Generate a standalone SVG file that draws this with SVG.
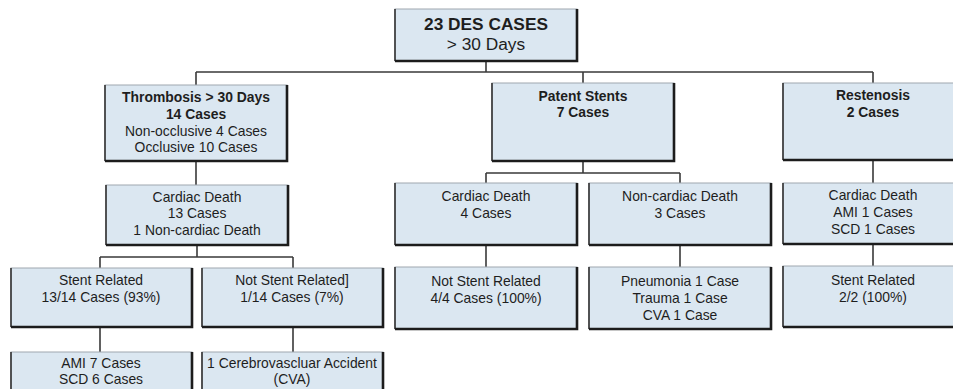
<svg xmlns="http://www.w3.org/2000/svg" width="953" height="389" viewBox="0 0 953 389">
<style>
.box{fill:#dbe7f1;stroke:#a0a8b0;stroke-width:1}
.sh{fill:none;stroke:#1c1c1c;stroke-width:2.6}
.lf{fill:none;stroke:#333;stroke-width:1.6}
text{font-family:"Liberation Sans",Arial,sans-serif;font-size:13.9px;fill:#1e1e1e;text-anchor:middle}
.b{font-weight:bold}
.big{font-size:17.3px}
#connectors path{fill:none;stroke:#3a3a3a;stroke-width:1.6}
</style>
<rect width="953" height="389" fill="#ffffff"/>
<g id="connectors">
<path d="M486 61V72M196 72H873M196 72V85M583 72V83M873 72V83"/>
<path d="M196 161V185M197 245V257M100 257H293M100 257V268M293 257V268M100 327V352M293 327V352"/>
<path d="M583 161V173M486 173H680M486 173V183M680 173V183M486 245V267M680 245V267"/>
<path d="M873 160V183M873 244V266"/>
</g>
<g id="n-top"><rect class="box" x="395" y="9" width="182" height="52"/><path class="lf" d="M395 9V61"/><path class="sh" d="M577 9V61H395"/>
<text class="b big" x="486" y="30">23 DES CASES</text><text class="big" x="486" y="50">&gt; 30 Days</text></g>
<g id="n-thrombosis"><rect class="box" x="105" y="85" width="182" height="76"/><path class="lf" d="M105 85V161"/><path class="sh" d="M287 85V161H105"/>
<text class="b" x="196" y="102">Thrombosis &gt; 30 Days</text><text class="b" x="196" y="119">14 Cases</text><text x="196" y="136">Non-occlusive 4 Cases</text><text x="196" y="152">Occlusive 10 Cases</text></g>
<g id="n-patent"><rect class="box" x="492" y="83" width="182" height="78"/><path class="lf" d="M492 83V161"/><path class="sh" d="M674 83V161H492"/>
<text class="b" x="583" y="101">Patent Stents</text><text class="b" x="583" y="117">7 Cases</text></g>
<g id="n-restenosis"><rect class="box" x="783" y="83" width="182" height="77"/><path class="lf" d="M783 83V160"/><path class="sh" d="M965 83V160H783"/>
<text class="b" x="873" y="100">Restenosis</text><text class="b" x="873" y="117">2 Cases</text></g>
<g id="n-thr-cardiac"><rect class="box" x="106" y="185" width="182" height="60"/><path class="lf" d="M106 185V245"/><path class="sh" d="M288 185V245H106"/>
<text x="197" y="202">Cardiac Death</text><text x="197" y="218">13 Cases</text><text x="197" y="235">1 Non-cardiac Death</text></g>
<g id="n-ps-cardiac"><rect class="box" x="395" y="183" width="182" height="62"/><path class="lf" d="M395 183V245"/><path class="sh" d="M577 183V245H395"/>
<text x="486" y="201">Cardiac Death</text><text x="486" y="218">4 Cases</text></g>
<g id="n-ps-noncardiac"><rect class="box" x="589" y="183" width="182" height="62"/><path class="lf" d="M589 183V245"/><path class="sh" d="M771 183V245H589"/>
<text x="680" y="201">Non-cardiac Death</text><text x="680" y="218">3 Cases</text></g>
<g id="n-res-cardiac"><rect class="box" x="783" y="183" width="182" height="61"/><path class="lf" d="M783 183V244"/><path class="sh" d="M965 183V244H783"/>
<text x="873" y="200">Cardiac Death</text><text x="873" y="217">AMI 1 Cases</text><text x="873" y="234">SCD 1 Cases</text></g>
<g id="n-stent-related"><rect class="box" x="11" y="268" width="181" height="59"/><path class="lf" d="M11 268V327"/><path class="sh" d="M192 268V327H11"/>
<text x="101" y="285">Stent Related</text><text x="101" y="302">13/14 Cases (93%)</text></g>
<g id="n-not-stent-related"><rect class="box" x="202" y="268" width="181" height="59"/><path class="lf" d="M202 268V327"/><path class="sh" d="M383 268V327H202"/>
<text x="292" y="285">Not Stent Related]</text><text x="292" y="302">1/14 Cases (7%)</text></g>
<g id="n-ps-not-stent"><rect class="box" x="395" y="267" width="182" height="62"/><path class="lf" d="M395 267V329"/><path class="sh" d="M577 267V329H395"/>
<text x="486" y="286">Not Stent Related</text><text x="486" y="303">4/4 Cases (100%)</text></g>
<g id="n-pneumonia"><rect class="box" x="589" y="267" width="182" height="62"/><path class="lf" d="M589 267V329"/><path class="sh" d="M771 267V329H589"/>
<text x="680" y="286">Pneumonia 1 Case</text><text x="680" y="303">Trauma 1 Case</text><text x="680" y="320">CVA 1 Case</text></g>
<g id="n-res-stent"><rect class="box" x="783" y="266" width="182" height="61"/><path class="lf" d="M783 266V327"/><path class="sh" d="M965 266V327H783"/>
<text x="873" y="285">Stent Related</text><text x="873" y="302">2/2 (100%)</text></g>
<g id="n-ami"><rect class="box" x="11" y="352" width="181" height="50"/><path class="lf" d="M11 352V402"/><path class="sh" d="M192 352V402"/>
<text x="101" y="368">AMI 7 Cases</text><text x="101" y="384">SCD 6 Cases</text></g>
<g id="n-cva"><rect class="box" x="202" y="352" width="181" height="50"/><path class="lf" d="M202 352V402"/><path class="sh" d="M383 352V402"/>
<text x="292" y="368">1 Cerebrovascluar Accident</text><text x="292" y="384">(CVA)</text></g>
</svg>
